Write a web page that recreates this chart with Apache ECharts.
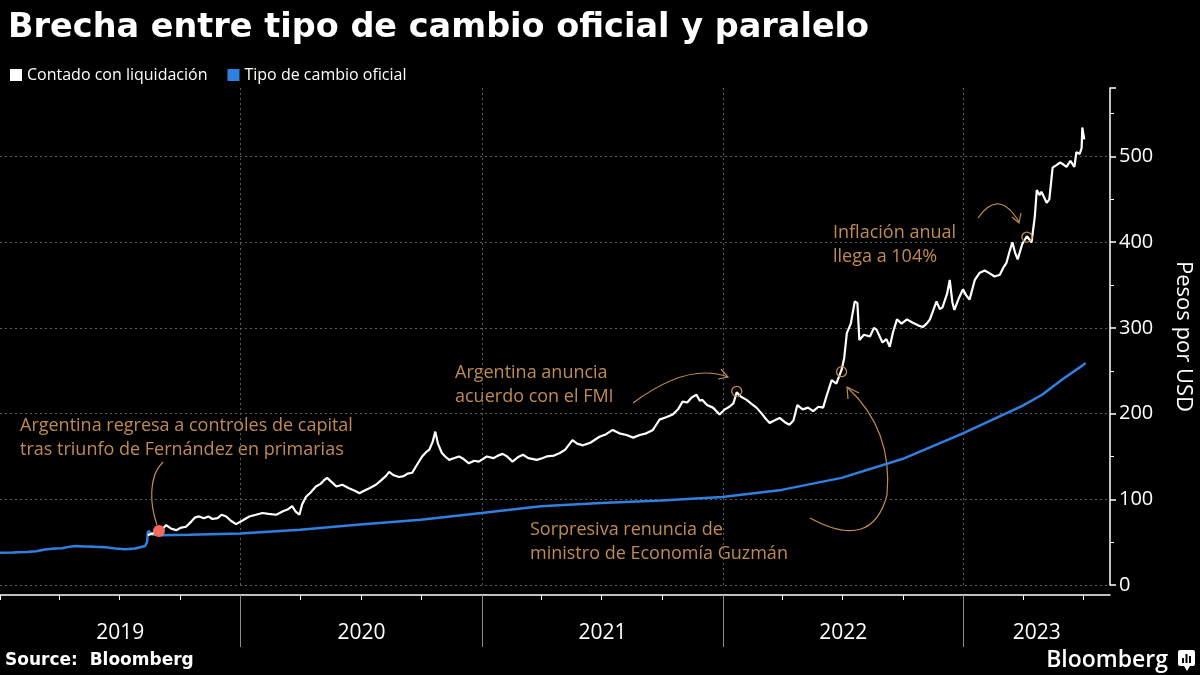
<!DOCTYPE html>
<html><head><meta charset="utf-8">
<script src="https://cdn.jsdelivr.net/npm/echarts@6/dist/echarts.min.js"></script>
<style>html,body{margin:0;padding:0;background:#000}#c{width:1200px;height:675px}</style>
</head><body><div id="c"></div>
<script>
// ---------------- DATA ----------------
const cclDates = [
'2019-08-13','2019-08-20','2019-08-30','2019-09-05','2019-09-10','2019-09-17','2019-09-25','2019-10-03','2019-10-10','2019-10-18','2019-10-24','2019-10-30','2019-11-06','2019-11-13','2019-11-19','2019-11-27','2019-12-03','2019-12-10','2019-12-17','2019-12-25',
'2020-01-03','2020-01-14','2020-01-24','2020-02-03','2020-02-12','2020-02-24','2020-03-05','2020-03-12','2020-03-19','2020-03-24','2020-03-30','2020-04-03','2020-04-09','2020-04-16','2020-04-24','2020-05-01','2020-05-06','2020-05-11','2020-05-18','2020-05-25','2020-06-03','2020-06-13','2020-06-22','2020-06-29','2020-07-06','2020-07-14','2020-07-24','2020-08-02','2020-08-08','2020-08-13','2020-08-20','2020-08-28','2020-09-04','2020-09-10','2020-09-17','2020-09-24','2020-10-02','2020-10-08','2020-10-13','2020-10-18','2020-10-22','2020-10-26','2020-11-01','2020-11-06','2020-11-12','2020-11-19','2020-11-27','2020-12-04','2020-12-12','2020-12-20','2020-12-27',
'2021-01-08','2021-01-18','2021-01-25','2021-02-01','2021-02-08','2021-02-16','2021-02-24','2021-03-04','2021-03-12','2021-03-25','2021-04-02','2021-04-09','2021-04-20','2021-04-29','2021-05-07','2021-05-18','2021-05-25','2021-06-03','2021-06-14','2021-06-28','2021-07-08','2021-07-18','2021-07-28','2021-08-08','2021-08-18','2021-08-28','2021-09-07','2021-09-17','2021-09-22','2021-09-27','2021-10-08','2021-10-17','2021-10-25','2021-11-01','2021-11-08','2021-11-15','2021-11-22','2021-11-27','2021-12-01','2021-12-08','2021-12-17','2021-12-22','2021-12-27',
'2022-01-04','2022-01-11','2022-01-17','2022-01-22','2022-01-28','2022-02-06','2022-02-14','2022-02-21','2022-03-01','2022-03-07','2022-03-13','2022-03-20','2022-03-28','2022-04-05','2022-04-12','2022-04-18','2022-04-24','2022-05-02','2022-05-10','2022-05-18','2022-05-26','2022-06-02','2022-06-07','2022-06-15','2022-06-22','2022-06-30','2022-07-04','2022-07-08','2022-07-14','2022-07-20','2022-07-24','2022-07-27','2022-08-03','2022-08-12','2022-08-18','2022-08-22','2022-08-31','2022-09-06','2022-09-11','2022-09-16','2022-09-22','2022-09-29','2022-10-07','2022-10-16','2022-10-24','2022-10-31','2022-11-06','2022-11-11','2022-11-21','2022-11-26','2022-11-30','2022-12-07','2022-12-11','2022-12-15','2022-12-18','2022-12-25','2022-12-31',
'2023-01-05','2023-01-10','2023-01-18','2023-01-25','2023-02-02','2023-02-09','2023-02-17','2023-02-25','2023-03-02','2023-03-07','2023-03-12','2023-03-16','2023-03-20','2023-03-24','2023-03-31','2023-04-07','2023-04-14','2023-04-19','2023-04-22','2023-04-26','2023-04-29','2023-05-07','2023-05-11','2023-05-16','2023-05-22','2023-05-27','2023-06-01','2023-06-06','2023-06-12','2023-06-18','2023-06-21','2023-06-26','2023-06-29','2023-06-30','2023-07-03'
];
const cclValues = [
58,60,62,66,70,66,64,67,68,74,79,80,78,80,77,78,82,80,75,71,
75,80,82,84,83,82,86,88,92,86,82,94,103,108,115,118,122,125,120,115,117,113,110,107,110,113,117,123,127,132,128,126,127,130,131,140,150,155,158,167,179,165,154,150,146,148,150,147,142,145,144,
150,148,151,153,150,144,149,152,148,146,148,150,151,154,158,169,165,163,166,173,176,181,177,175,172,175,177,181,187,193,196,199,205,214,213,219,222,215,216,210,207,203,199,
205,208,212,225,220,216,211,207,200,194,189,192,195,190,187,192,210,205,207,203,208,207,220,239,235,251,265,294,305,331,329,286,292,290,300,298,283,287,278,295,310,305,310,306,303,301,305,310,331,322,324,340,356,330,321,335,345,
338,333,356,364,367,364,360,362,370,376,390,400,388,380,398,407,400,430,461,455,459,446,450,487,490,493,491,488,495,488,505,503,510,534,520
];
const offDates = [
'2019-01-01','2019-01-20','2019-02-10','2019-02-25','2019-03-10','2019-03-25','2019-04-05','2019-04-15','2019-04-25','2019-05-10','2019-05-25','2019-06-10','2019-06-25','2019-07-10','2019-07-25','2019-08-09','2019-08-12','2019-08-13','2019-08-14','2019-08-20','2019-09-01','2019-10-15','2019-12-31',
'2020-03-31','2020-06-30','2020-09-30','2020-12-31','2021-03-31','2021-06-30','2021-09-30','2021-12-31','2022-03-31','2022-06-30','2022-09-30','2022-12-31','2023-03-31','2023-04-30','2023-05-31','2023-06-30','2023-07-05'
];
const offValues = [
37.5,37.8,38.5,39.5,41.5,42.5,43.0,44.5,45.5,45.0,44.5,44.0,42.5,41.8,42.5,45.5,50,60,63,59,58,58.5,60,
64.5,70.5,76.2,84,92,95.7,98.7,102.7,111,125,147,177,209,222,240,256,259
];
const yTicks = [0, 100, 200, 300, 400, 500];
const years = [2019, 2020, 2021, 2022, 2023];
const xMin = '2019-01-01', xMax = '2023-08-11';
const eventDates = ['2019-08-30', '2022-01-22', '2022-06-30', '2023-04-07'];
const eventValues = [63, 226, 249, 406];
const seriesNames = ['Contado con liquidación', 'Tipo de cambio oficial'];
const titleText = 'Brecha entre tipo de cambio oficial y paralelo';
const notes = [
  'Argentina regresa a controles de capital\ntras triunfo de Fernández en primarias',
  'Argentina anuncia\nacuerdo con el FMI',
  'Sorpresiva renuncia de\nministro de Economía Guzmán',
  'Inflación anual\nllega a 104%'
];

// ---------------- BUILD ----------------
const ts = s => { const p = s.split('-').map(Number); return new Date(p[0], p[1]-1, p[2]).getTime(); };
const tMin = ts(xMin), tMax = ts(xMax);
const quarterTicks = [];
years.forEach(y => [0,3,6,9].forEach(m => { const t = new Date(y, m, 1).getTime(); if (t >= tMin && t <= tMax) quarterTicks.push(t); }));
const yearStarts = years.slice(1).map(y => new Date(y, 0, 1).getTime());
const yearMids = years.map(y => { const a = Math.max(new Date(y,0,1).getTime(), tMin); const b = Math.min(new Date(y+1,0,1).getTime(), tMax); return (a+b)/2; });

const ORANGE = '#c08b52';
const BLUE = '#2f80e0';
const FONT = '"Open Sans", "Noto Sans", sans-serif';

const chart = echarts.init(document.getElementById('c'));
const noteStyle = (txt) => ({ text: txt, fill: ORANGE, fontSize: 18, fontFamily: FONT, lineHeight: 24, verticalAlign: 'top' });
const arrowStroke = { stroke: ORANGE, lineWidth: 1.2, fill: null };

chart.setOption({
  backgroundColor: '#000',
  animation: false,
  title: { text: titleText, left: 3, top: 6, textStyle: { color: '#fff', fontSize: 33.5, fontWeight: 'bold', fontFamily: '"DejaVu Sans", sans-serif' } },
  legend: {
    data: seriesNames, left: 5, top: 62, icon: 'rect', itemWidth: 12, itemHeight: 12, itemGap: 20,
    textStyle: { color: '#fff', fontSize: 16, fontFamily: FONT }
  },
  grid: { left: 0, right: 90, top: 88, bottom: 90, containLabel: false, outerBoundsMode: 'none' },
  xAxis: [{
    type: 'value', min: tMin, max: tMax, position: 'bottom', offset: 10, scale: true,
    axisLine: { show: true, onZero: false, lineStyle: { color: '#fff', width: 1.5 } },
    axisTick: { show: true, customValues: quarterTicks, length: 5, lineStyle: { color: '#fff', width: 1 } },
    axisLabel: { show: true, customValues: yearMids, formatter: v => String(new Date(v).getFullYear()), color: '#fff', fontSize: 21, fontFamily: FONT, margin: 28 },
    splitLine: { show: false }
  }, {
    type: 'value', min: tMin, max: tMax, position: 'bottom', offset: 10, scale: true,
    axisLine: { show: false, onZero: false },
    axisTick: { show: true, customValues: yearStarts, length: 52, lineStyle: { color: '#8a8a8a', width: 1 } },
    axisLabel: { show: false },
    splitLine: { show: false }
  }],
  yAxis: {
    type: 'value', position: 'right', min: 0, max: 580, interval: 100,
    axisLine: { show: true, lineStyle: { color: '#fff', width: 1.5 } },
    axisTick: { show: true, length: 6, lineStyle: { color: '#fff', width: 1.5 } },
    minorTick: { show: true, splitNumber: 2, length: 4, lineStyle: { color: '#fff', width: 1 } },
    axisLabel: { color: '#fff', fontSize: 20, fontFamily: FONT, margin: 9, formatter: v => (v % 100 === 0 ? String(v) : '') },
    splitLine: { show: false },
    name: 'Pesos por USD', nameLocation: 'middle', nameRotate: -90, nameGap: 62,
    nameTextStyle: { color: '#fff', fontSize: 22, fontFamily: FONT }
  },
  series: [{
    name: seriesNames[1], type: 'line', xAxisIndex: 0, z: 3,
    data: offDates.map((d, i) => [ts(d), offValues[i]]),
    symbol: 'none', showSymbol: false,
    lineStyle: { color: BLUE, width: 2.5 }, itemStyle: { color: BLUE },
    markLine: {
      silent: true, symbol: ['none', 'none'], z: 1, label: { show: false },
      lineStyle: { color: '#5c5c5c', type: [2, 3], width: 1 },
      emphasis: { disabled: true },
      data: yTicks.map(v => ({ yAxis: v })).concat(yearStarts.map(t => ({ xAxis: t })))
    }
  }, {
    name: seriesNames[0], type: 'line', xAxisIndex: 0, z: 4,
    data: cclDates.map((d, i) => [ts(d), cclValues[i]]),
    symbol: 'none', showSymbol: false,
    lineStyle: { color: '#fff', width: 2.2 }, itemStyle: { color: '#fff' },
    markPoint: {
      silent: true, label: { show: false },
      data: eventDates.map((d, i) => ({
        coord: [ts(d), eventValues[i]], symbol: 'circle', symbolSize: i === 0 ? 12 : 10,
        itemStyle: i === 0 ? { color: '#f26b5e' } : { color: 'rgba(0,0,0,0)', borderColor: ORANGE, borderWidth: 1.3 }
      }))
    }
  }],
  graphic: [
    { type: 'text', x: 20, y: 414, style: noteStyle(notes[0]) },
    { type: 'text', x: 455, y: 361, style: noteStyle(notes[1]) },
    { type: 'text', x: 530, y: 518, style: noteStyle(notes[2]) },
    { type: 'text', x: 833, y: 221, style: noteStyle(notes[3]) },
    { type: 'bezierCurve', shape: { x1: 163, y1: 462, cpx1: 148, cpy1: 476, cpx2: 150, cpy2: 505, x2: 157, y2: 525 }, style: arrowStroke },
    { type: 'bezierCurve', shape: { x1: 633, y1: 403, cpx1: 688, cpy1: 362, x2: 728, y2: 377 }, style: arrowStroke },
    { type: 'polyline', shape: { points: [[721, 369], [728, 377], [718, 379]] }, style: arrowStroke },
    { type: 'bezierCurve', shape: { x1: 810, y1: 518, cpx1: 872, cpy1: 552, x2: 887, y2: 495 }, style: arrowStroke },
    { type: 'bezierCurve', shape: { x1: 887, y1: 495, cpx1: 893, cpy1: 430, x2: 848, y2: 388 }, style: arrowStroke },
    { type: 'polyline', shape: { points: [[859, 393], [847, 387], [848, 399]] }, style: arrowStroke },
    { type: 'bezierCurve', shape: { x1: 978, y1: 218, cpx1: 999, cpy1: 188, x2: 1019, y2: 222 }, style: arrowStroke },
    { type: 'polyline', shape: { points: [[1012, 217], [1019, 223], [1021, 213]] }, style: arrowStroke },
    { type: 'text', x: 5, y: 652, style: { text: 'Source:  Bloomberg', fill: '#fff', fontSize: 17, fontWeight: 'bold', fontFamily: '"DejaVu Sans", sans-serif', verticalAlign: 'top' } },
    { type: 'text', x: 1168, y: 660, style: { text: 'Bloomberg', fill: '#fff', fontSize: 23, fontWeight: 600, fontFamily: FONT, align: 'right', verticalAlign: 'middle' } },
    { type: 'rect', shape: { x: 1178, y: 650, width: 17, height: 16, r: 2 }, style: { fill: '#fff' } },
    { type: 'polygon', shape: { points: [[1184, 666], [1187, 671], [1190, 666]] }, style: { fill: '#fff' } },
    { type: 'rect', shape: { x: 1182, y: 658, width: 2, height: 5 }, style: { fill: '#000' } },
    { type: 'rect', shape: { x: 1185.5, y: 654, width: 2, height: 9 }, style: { fill: '#000' } },
    { type: 'rect', shape: { x: 1189, y: 656, width: 2, height: 7 }, style: { fill: '#000' } }
  ]
});
</script>
</body></html>
